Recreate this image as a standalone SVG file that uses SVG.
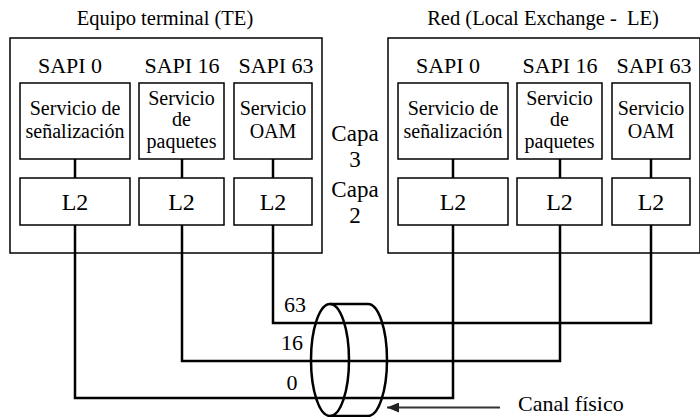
<svg xmlns="http://www.w3.org/2000/svg" width="700" height="417" viewBox="0 0 700 417" font-family="'Liberation Serif', 'DejaVu Serif', serif">
  <defs>
    <style>
      text { font-family: 'Liberation Serif', 'DejaVu Serif', serif; fill: #000; text-anchor: middle; }
      .title { font-size: 20.5px; }
      .sapi { font-size: 22px; }
      .svc { font-size: 20px; }
      .l2 { font-size: 24px; }
      .capa { font-size: 23px; }
      .num { font-size: 22px; }
      .note { font-size: 22px; text-anchor: start; }
      .frame { fill: #fff; stroke: #000; stroke-width: 1.5; }
      .box { fill: #fff; stroke: #000; stroke-width: 1.5; }
      .wire { fill: none; stroke: #000; stroke-width: 2.5; }
      .cable { fill: none; stroke: #000; stroke-width: 2.5; }
      .pointer { fill: none; stroke: #333; stroke-width: 2; }
    </style>
    <marker id="arrowhead" viewBox="0 0 12 10" refX="12" refY="5" markerWidth="12" markerHeight="10" markerUnits="userSpaceOnUse" orient="auto">
      <path d="M0,0 L12,5 L0,10 Z" fill="#222"/>
    </marker>
  </defs>

  <!-- Terminal equipment side -->
  <g id="te">
    <text class="title" x="165" y="25">Equipo terminal (TE)</text>
    <rect class="frame" x="10" y="38" width="312" height="215"/>
  </g>
  <g id="te-sapi0">
    <text class="sapi" x="70" y="73">SAPI 0</text>
    <rect class="box" x="20" y="83" width="110" height="76"/>
    <text class="svc" x="75" y="115">Servicio de</text>
    <text class="svc" x="75" y="138">señalización</text>
  </g>
  <g id="te-sapi16">
    <text class="sapi" x="182" y="73">SAPI 16</text>
    <rect class="box" x="139" y="83" width="85" height="76"/>
    <text class="svc" x="181.5" y="105">Servicio</text>
    <text class="svc" x="181.5" y="126">de</text>
    <text class="svc" x="181.5" y="148">paquetes</text>
  </g>
  <g id="te-sapi63">
    <text class="sapi" x="276" y="73">SAPI 63</text>
    <rect class="box" x="234" y="83" width="78" height="76"/>
    <text class="svc" x="273" y="115">Servicio</text>
    <text class="svc" x="273" y="138">OAM</text>
  </g>
  <g id="te-l2-0">
    <rect class="box" x="20" y="178" width="110" height="47"/>
    <text class="l2" x="75" y="210">L2</text>
  </g>
  <g id="te-l2-16">
    <rect class="box" x="139" y="178" width="85" height="47"/>
    <text class="l2" x="181.5" y="210">L2</text>
  </g>
  <g id="te-l2-63">
    <rect class="box" x="234" y="178" width="78" height="47"/>
    <text class="l2" x="273" y="210">L2</text>
  </g>

  <!-- Layer labels -->
  <g id="layer3">
    <text class="capa" x="355" y="141">Capa</text>
    <text class="capa" x="355" y="167">3</text>
  </g>
  <g id="layer2">
    <text class="capa" x="355" y="197">Capa</text>
    <text class="capa" x="355" y="223">2</text>
  </g>

  <!-- Network side -->
  <g id="le">
    <text class="title" x="543" y="25" xml:space="preserve">Red (Local Exchange -  LE)</text>
    <rect class="frame" x="388" y="38" width="312" height="215"/>
  </g>
  <g id="le-sapi0">
    <text class="sapi" x="448" y="73">SAPI 0</text>
    <rect class="box" x="398" y="83" width="110" height="76"/>
    <text class="svc" x="453" y="115">Servicio de</text>
    <text class="svc" x="453" y="138">señalización</text>
  </g>
  <g id="le-sapi16">
    <text class="sapi" x="560" y="73">SAPI 16</text>
    <rect class="box" x="517" y="83" width="85" height="76"/>
    <text class="svc" x="559.5" y="105">Servicio</text>
    <text class="svc" x="559.5" y="126">de</text>
    <text class="svc" x="559.5" y="148">paquetes</text>
  </g>
  <g id="le-sapi63">
    <text class="sapi" x="654" y="73">SAPI 63</text>
    <rect class="box" x="612" y="83" width="78" height="76"/>
    <text class="svc" x="651" y="115">Servicio</text>
    <text class="svc" x="651" y="138">OAM</text>
  </g>
  <g id="le-l2-0">
    <rect class="box" x="398" y="178" width="110" height="47"/>
    <text class="l2" x="453" y="210">L2</text>
  </g>
  <g id="le-l2-16">
    <rect class="box" x="517" y="178" width="85" height="47"/>
    <text class="l2" x="559.5" y="210">L2</text>
  </g>
  <g id="le-l2-63">
    <rect class="box" x="612" y="178" width="78" height="47"/>
    <text class="l2" x="651" y="210">L2</text>
  </g>

  <!-- Connectors: service to L2, and logical links over the physical channel -->
  <g id="connectors">
    <line class="wire" x1="75" y1="159" x2="75" y2="178"/>
    <line class="wire" x1="182" y1="159" x2="182" y2="178"/>
    <line class="wire" x1="273" y1="159" x2="273" y2="178"/>
    <line class="wire" x1="453" y1="159" x2="453" y2="178"/>
    <line class="wire" x1="560" y1="159" x2="560" y2="178"/>
    <line class="wire" x1="651" y1="159" x2="651" y2="178"/>
    <polyline class="wire" points="75,225 75,398 453,398 453,225"/>
    <polyline class="wire" points="182,225 182,361 560,361 560,225"/>
    <polyline class="wire" points="273,225 273,323 651,323 651,225"/>
  </g>

  <!-- Link labels -->
  <g id="link-labels">
    <text class="num" x="295" y="312">63</text>
    <text class="num" x="292" y="350">16</text>
    <text class="num" x="292" y="390">0</text>
  </g>

  <!-- Physical channel drawn as a short cylinder -->
  <g id="channel">
    <ellipse class="cable" cx="330" cy="360" rx="19" ry="56"/>
    <path class="cable" d="M330,304 L368,304 A19,56 0 0 1 368,416 L330,416"/>
  </g>

  <g id="channel-label">
    <line class="pointer" x1="500" y1="407.5" x2="387" y2="407.5" marker-end="url(#arrowhead)"/>
    <text class="note" x="518" y="411">Canal físico</text>
  </g>
</svg>
